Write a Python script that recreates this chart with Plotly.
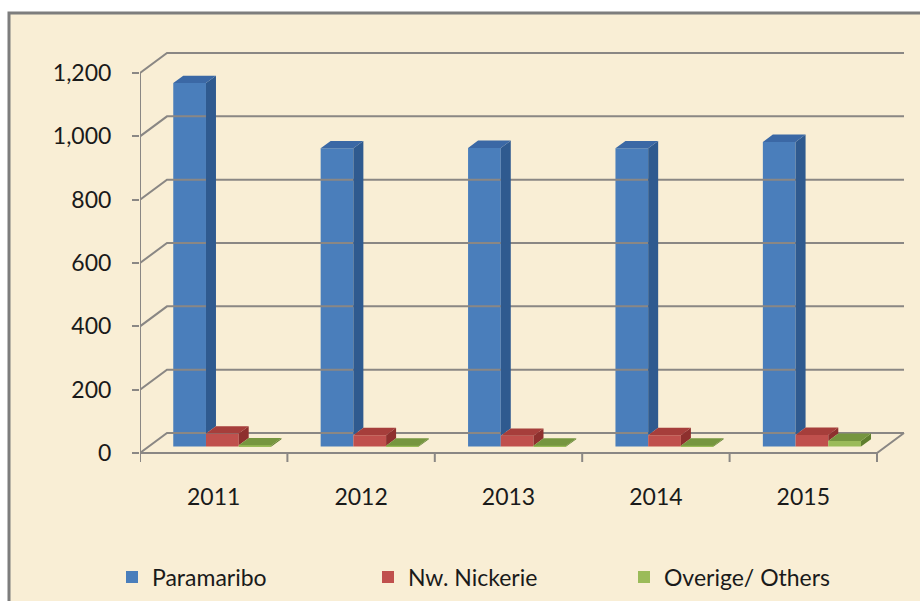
import plotly.graph_objects as go

# ---------------- data ----------------
years = ["2011", "2012", "2013", "2014", "2015"]
paramaribo = [1148, 942, 943, 942, 962]
nickerie = [41, 36, 34, 36, 37]
others = [4, 3, 3, 3, 18]
series_names = ["Paramaribo", "Nw. Nickerie", "Overige/ Others"]
y_ticks = [0, 200, 400, 600, 800, 1000, 1200]

# ---------------- styling / geometry ----------------
W, H = 920, 601
PX_X = 147.4          # px per category
PX_Y = 380 / 1200     # px per value unit
AX_LEFT = 140         # px of front value axis
ZERO_PY = 453         # px of value 0 on the front plane
PLOT_RIGHT = 910
PLOT_TOP = 50
PLOT_BOTTOM = 466
DEPTH_PX = (27, 20)   # oblique depth offset (right, up) in px
DX = DEPTH_PX[0] / PX_X
DY = DEPTH_PX[1] / PX_Y
D0, D1 = 0.32, 0.69   # bar front / back depth fraction
BW = 0.222            # bar width in category units

face_colors = [
    ("#4a7ebb", "#2f5a8f", "#3b68a5"),
    ("#c0504d", "#8e302e", "#a63e3b"),
    ("#9bbb59", "#5f7f2e", "#76963f"),
]
grid_color = "#8a8784"
font_family = "Lato, 'Open Sans', sans-serif"
text_color = "#1a1a1a"
parchment = "#f9eed5"

x_min = -0.5
x_max = x_min + (PLOT_RIGHT - AX_LEFT) / PX_X
y_min = -(PLOT_BOTTOM - ZERO_PY) / PX_Y
y_max = (ZERO_PY - PLOT_TOP) / PX_Y


def P(x, v, d):
    return x + d * DX, v + d * DY


fig = go.Figure()

# ---- walls: gridlines on side + back wall ----
gx, gy = [], []
n = len(years)
for v in y_ticks:
    for pt in (P(-0.5, v, 0), P(-0.5, v, 1), P(n - 0.5, v, 1)):
        gx.append(pt[0]); gy.append(pt[1])
    gx.append(None); gy.append(None)
# floor front edge and right edge
for pt in (P(-0.5, 0, 0), P(n - 0.5, 0, 0), P(n - 0.5, 0, 1)):
    gx.append(pt[0]); gy.append(pt[1])
gx.append(None); gy.append(None)
# front value axis
for pt in (P(-0.5, 0, 0), P(-0.5, y_ticks[-1], 0)):
    gx.append(pt[0]); gy.append(pt[1])
gx.append(None); gy.append(None)
# category tick marks below floor edge
tick_len = 9 / PX_Y
for k in range(n + 1):
    b = -0.5 + k
    gx += [b, b, None]; gy += [0, -tick_len, None]
fig.add_trace(go.Scatter(x=gx, y=gy, mode="lines", line=dict(color=grid_color, width=2),
                         hoverinfo="skip", showlegend=False, cliponaxis=False))

all_series = [paramaribo, nickerie, others]

# ---- front faces as bars ----
for s, vals in enumerate(all_series):
    xs = [i + (s - 1) * BW + D0 * DX for i in range(n)]
    fig.add_trace(go.Bar(x=xs, y=vals, base=D0 * DY, width=BW, name=series_names[s],
                         marker=dict(color=face_colors[s][0], line=dict(width=0)),
                         customdata=years, hovertemplate="%{customdata}: %{y}<extra>%{fullData.name}</extra>"))

# ---- side and top faces ----
for s, vals in enumerate(all_series):
    sx, sy, tx, ty = [], [], [], []
    for i in range(n):
        v = vals[i]
        xl = i + (s - 1) * BW - BW / 2
        xr = xl + BW
        # visible part of right side face: above the next series' top
        low = all_series[s + 1][i] if s + 1 < len(all_series) else 0
        if v > low:
            for pt in (P(xr, low, D0), P(xr, low, D1), P(xr, v, D1), P(xr, v, D0), P(xr, low, D0)):
                sx.append(pt[0]); sy.append(pt[1])
            sx.append(None); sy.append(None)
        for pt in (P(xl, v, D0), P(xr, v, D0), P(xr, v, D1), P(xl, v, D1), P(xl, v, D0)):
            tx.append(pt[0]); ty.append(pt[1])
        tx.append(None); ty.append(None)
    fig.add_trace(go.Scatter(x=sx, y=sy, mode="lines", fill="toself", fillcolor=face_colors[s][1],
                             line=dict(width=0, color=face_colors[s][1]), hoverinfo="skip", showlegend=False))
    fig.add_trace(go.Scatter(x=tx, y=ty, mode="lines", fill="toself", fillcolor=face_colors[s][2],
                             line=dict(width=0, color=face_colors[s][2]), hoverinfo="skip", showlegend=False))

plot_w = PLOT_RIGHT - AX_LEFT
plot_h = PLOT_BOTTOM - PLOT_TOP


def paper_x(px):
    return (px - AX_LEFT) / plot_w


def paper_y(py):
    return (PLOT_BOTTOM - py) / plot_h


fig.update_layout(
    width=W, height=H,
    margin=dict(l=AX_LEFT, r=W - PLOT_RIGHT, t=PLOT_TOP, b=H - PLOT_BOTTOM, pad=0),
    paper_bgcolor="white",
    plot_bgcolor="rgba(0,0,0,0)",
    barmode="overlay",
    font=dict(family=font_family, size=23, color=text_color),
    xaxis=dict(range=[x_min, x_max], tickmode="array", tickvals=list(range(n)), ticktext=years,
               showgrid=False, zeroline=False, showline=False, ticks="", ticklabelstandoff=15,
               fixedrange=True, tickfont=dict(size=23)),
    yaxis=dict(range=[y_min, y_max], tickmode="array", tickvals=y_ticks,
               ticktext=[f"{v:,}" for v in y_ticks], showgrid=False, zeroline=False, showline=False,
               ticks="outside", ticklen=7, tickwidth=2, tickcolor=grid_color, ticklabelstandoff=16,
               fixedrange=True, tickfont=dict(size=23)),
    legend=dict(orientation="h", xref="container", yref="container", x=112 / W, y=1 - 577 / H,
                xanchor="left", yanchor="middle", entrywidthmode="pixels", entrywidth=211,
                bgcolor="rgba(0,0,0,0)", font=dict(size=23), traceorder="normal"),
    shapes=[dict(type="rect", xref="paper", yref="paper", layer="below",
                 x0=paper_x(9), x1=paper_x(W + 10), y0=paper_y(H + 10), y1=paper_y(13),
                 fillcolor=parchment, line=dict(color="#7d7d7d", width=3))],
)

fig.write_html("out.html", config={"displayModeBar": False},
               post_script="document.body.style.margin='0px';")
